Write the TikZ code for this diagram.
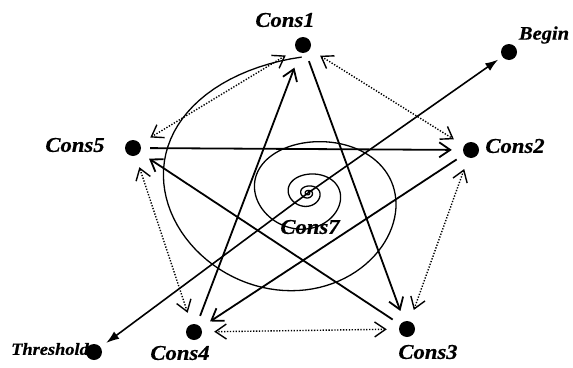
\documentclass[tikz,border=0pt]{standalone}
\usepackage{fontspec}
\setmainfont{Liberation Serif}
\newfontfamily\consfont[FakeStretch=1.08,FakeBold=0.6]{Liberation Serif}
\usetikzlibrary{arrows.meta}

\begin{document}
\begin{tikzpicture}[
    x=1pt, y=-1pt,
    dot/.style={circle, fill=black, inner sep=0pt, minimum size=16pt},
    clabel/.style={font=\consfont\fontsize{21}{25}\selectfont\bfseries\itshape, inner sep=0pt},
    endlabel/.style={font=\consfont\fontsize{17}{20}\selectfont\bfseries\itshape, inner sep=0pt},
    link/.style={draw, line width=1.8pt, -{Straight Barb[length=11pt,width=15pt]}, shorten <=9pt, shorten >=11pt},
    swap/.style={draw, line width=1.4pt, dash pattern=on 1.3pt off 1.6pt,
        {Straight Barb[length=11pt,width=15pt]}-{Straight Barb[length=11pt,width=15pt]}, shorten <=12pt, shorten >=12pt},
    flow/.style={draw, line width=1.6pt, -{Latex[length=13pt,width=9pt]}}
]
\useasboundingbox (0,0) rectangle (573,367);

\node[dot] (c1) at (303,45) {};
\node[dot] (c2) at (471,150) {};
\node[dot] (c3) at (407,329) {};
\node[dot] (c4) at (194,332) {};
\node[dot] (c5) at (133,148) {};
\coordinate (c7) at (308,193);
\node[endlabel] (thrtext) at (50,349) {Threshold};
\node[dot] (thr) at (94,352) {};
\node[dot] (beg) at (509,52) {};

\node[clabel] (c1text) at (285,20) {Cons1};
\node[clabel] (c2text) at (515,146) {Cons2};
\node[clabel] (c3text) at (428,352) {Cons3};
\node[clabel] (c4text) at (180,353) {Cons4};
\node[clabel] (c5text) at (75,145) {Cons5};
\node[endlabel, font=\consfont\fontsize{19}{23}\selectfont\bfseries\itshape] (begtext) at (544,35) {Begin};

% spiral around Cons7
\draw[line width=1.3pt] plot[domain=0:1800, samples=500]
    ({308+182*exp(-0.158*rad(\x))*cos(92+\x)},
     {193-136*exp(-0.158*rad(\x))*sin(92+\x)*(1.08-0.08*sin(92+\x))});
\node[clabel] (c7text) at (310,227) {Cons7};

\draw[link] (c5) -- (c2);
\draw[link, shorten >=16pt] (c4) -- (c1);
\draw[link] (c1) -- (c3);
\draw[link] (c2) -- (c4);
\draw[link] (c3) -- (c5);

\draw[swap] (c1) -- (c5);
\draw[swap] (c1) -- (c2);
\draw[swap] (c2) -- (c3);
\draw[swap] (c3) -- (c4);
\draw[swap] (c4) -- (c5);

\draw[flow, shorten >=5pt] (c7) -- (beg);
\draw[flow, shorten >=7pt] (c7) -- (thr);
\end{tikzpicture}
\end{document}
